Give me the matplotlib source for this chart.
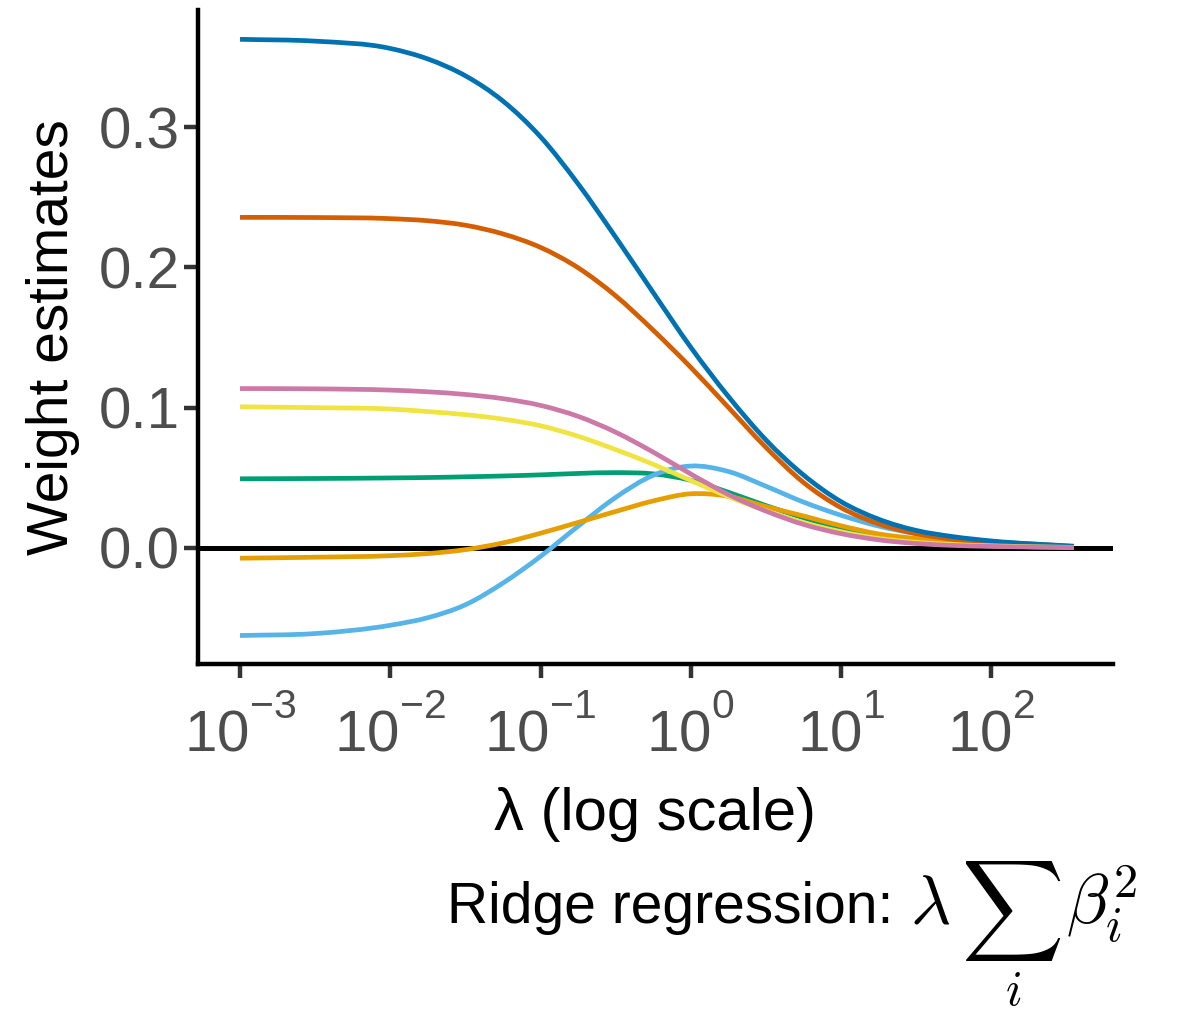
import numpy as np
import matplotlib
matplotlib.use("Agg")
import matplotlib.pyplot as plt
from matplotlib.path import Path
from matplotlib.patches import PathPatch

# ---- data ----
log10_lambda = [-3, -2.5, -2, -1.75, -1.5, -1.25, -1, -0.75, -0.5, -0.25, 0,
                0.25, 0.5, 0.75, 1, 1.25, 1.5, 1.75, 2, 2.55]

w_blue = [0.3625, 0.3612, 0.3560, 0.3485, 0.3365, 0.3185, 0.2930, 0.2595, 0.2215, 0.182, 0.143,
          0.108, 0.077, 0.052, 0.033, 0.0205, 0.0125, 0.008, 0.005, 0.0012]
w_vermillion = [0.2356, 0.2355, 0.2347, 0.2332, 0.2300, 0.2238, 0.2142, 0.1997, 0.1797, 0.1552, 0.1287,
                0.1002, 0.0717, 0.0467, 0.0287, 0.0172, 0.0102, 0.0061, 0.0036, 0.0009]
w_pink = [0.1136, 0.1134, 0.1125, 0.1113, 0.1094, 0.1064, 0.1016, 0.0938, 0.0825, 0.0683, 0.0527,
          0.0381, 0.0263, 0.0168, 0.0102, 0.0058, 0.0032, 0.0018, 0.0011, 0.0003]
w_yellow = [0.1006, 0.1000, 0.0990, 0.0972, 0.0950, 0.0918, 0.0871, 0.0796, 0.0701, 0.0596, 0.0481,
            0.0366, 0.0266, 0.0181, 0.0116, 0.0068, 0.0040, 0.0024, 0.0015, 0.0004]
w_green = [0.0493, 0.0495, 0.0499, 0.0502, 0.0507, 0.0513, 0.0521, 0.0531, 0.0537, 0.0528, 0.0482,
           0.0397, 0.0302, 0.0215, 0.0138, 0.0085, 0.0055, 0.0036, 0.0025, 0.0006]
w_orange = [-0.0073, -0.0066, -0.0055, -0.0040, -0.0012, 0.0036, 0.0105, 0.0182, 0.0260, 0.0335, 0.0386,
            0.0368, 0.0295, 0.0228, 0.0158, 0.0100, 0.0068, 0.0050, 0.0042, 0.0010]
w_skyblue = [-0.0624, -0.0610, -0.0551, -0.0497, -0.0405, -0.0250, -0.0060, 0.0155, 0.0360, 0.0518, 0.0584,
             0.0545, 0.0440, 0.0327, 0.0233, 0.0156, 0.0102, 0.0066, 0.0045, 0.0012]

x_ticks = [1e-3, 1e-2, 1e-1, 1e0, 1e1, 1e2]
x_ticklabels = [r"$\mathregular{10^{-3}}$", r"$\mathregular{10^{-2}}$", r"$\mathregular{10^{-1}}$",
                r"$\mathregular{10^{0}}$", r"$\mathregular{10^{1}}$", r"$\mathregular{10^{2}}$"]
y_ticks = [0.0, 0.1, 0.2, 0.3]
y_ticklabels = ["0.0", "0.1", "0.2", "0.3"]

# ---- style ----
plt.rcParams["font.family"] = ["Liberation Sans", "DejaVu Sans"]
plt.rcParams["mathtext.fontset"] = "custom"
plt.rcParams["mathtext.rm"] = "Liberation Sans"
plt.rcParams["mathtext.it"] = "Liberation Sans:italic"
try:
    # raise superscripts a little more (closer to plotmath output)
    import matplotlib._mathtext as _mt
    _mt.FontConstantsBase.sup1 = 1.1
except Exception:
    pass

W, H = 1178, 1015
fig = plt.figure(figsize=(W / 100, H / 100), dpi=100)
ax = fig.add_axes([197.5 / W, (H - 664) / H, (1113 - 197.5) / W, (664 - 10) / H])

ax.set_xscale("log")
ax.set_xlim(10 ** -3.283, 10 ** 2.81)
ax.set_ylim(-0.0827, 0.3834)


def smooth_path(u, y):
    """Cubic Bezier path through every data point (log10 x space)."""
    u = np.asarray(u, float)
    y = np.asarray(y, float)
    n = len(u)
    h = np.diff(u)
    d = np.diff(y) / h
    m = np.empty(n)
    m[0] = d[0]
    m[-1] = d[-1]
    for i in range(1, n - 1):
        m[i] = (d[i - 1] * h[i] + d[i] * h[i - 1]) / (h[i - 1] + h[i])
    verts = [(10 ** u[0], y[0])]
    codes = [Path.MOVETO]
    for i in range(n - 1):
        c1u = u[i] + h[i] / 3
        c1y = y[i] + m[i] * h[i] / 3
        c2u = u[i + 1] - h[i] / 3
        c2y = y[i + 1] - m[i + 1] * h[i] / 3
        verts += [(10 ** c1u, c1y), (10 ** c2u, c2y), (10 ** u[i + 1], y[i + 1])]
        codes += [Path.CURVE4] * 3
    return Path(verts, codes)


series = [
    (w_green, "#009E73"),
    (w_skyblue, "#56B4E9"),
    (w_orange, "#E69F00"),
    (w_vermillion, "#D55E00"),
    (w_blue, "#0072B2"),
    (w_yellow, "#F0E442"),
    (w_pink, "#CC79A7"),
]

ax.axhline(0, color="black", lw=3.6, zorder=1)
for vals, col in series:
    patch = PathPatch(smooth_path(log10_lambda, vals), facecolor="none", edgecolor=col,
                      lw=3.4, capstyle="butt", joinstyle="round", zorder=2)
    ax.add_patch(patch)

ax.set_xticks(x_ticks)
ax.set_xticklabels(x_ticklabels)
ax.xaxis.set_minor_locator(matplotlib.ticker.NullLocator())
ax.set_yticks(y_ticks)
ax.set_yticklabels(y_ticklabels)

for s in ["top", "right"]:
    ax.spines[s].set_visible(False)
for s in ["left", "bottom"]:
    ax.spines[s].set_linewidth(3.2)
    ax.spines[s].set_color("black")
    ax.spines[s].set_capstyle("projecting")

ax.tick_params(axis="both", which="major", length=10, width=3.2, color="#333333",
               labelsize=42, labelcolor="#4D4D4D")
ax.tick_params(axis="x", pad=14)
ax.tick_params(axis="y", pad=2.5)

ax.set_xlabel("λ (log scale)", fontsize=43, color="black", labelpad=17)
ax.set_ylabel("Weight estimates", fontsize=41, color="black", labelpad=14)

# caption: "Ridge regression:  lambda sum_i beta_i^2"
fig.text(893 / W, 1 - 923 / H, "Ridge regression:", ha="right", va="baseline",
         fontsize=41, color="black")
fig.text(910 / W, 1 - 923 / H, r"$\lambda$", ha="left", va="baseline",
         fontsize=50, color="black", math_fontfamily="cm")
fig.text(1011 / W, 1 - 911 / H, r"$\sum$", ha="center", va="center",
         fontsize=51, color="black", math_fontfamily="cm")
fig.text(1013 / W, 1 - 1014.5 / H, r"$i$", ha="center", va="bottom",
         fontsize=35, color="black", math_fontfamily="cm")
fig.text(1066 / W, 1 - 924 / H, r"$\beta_i^2$", ha="left", va="baseline",
         fontsize=50, color="black", math_fontfamily="cm")

fig.savefig("out.png", dpi=100)
